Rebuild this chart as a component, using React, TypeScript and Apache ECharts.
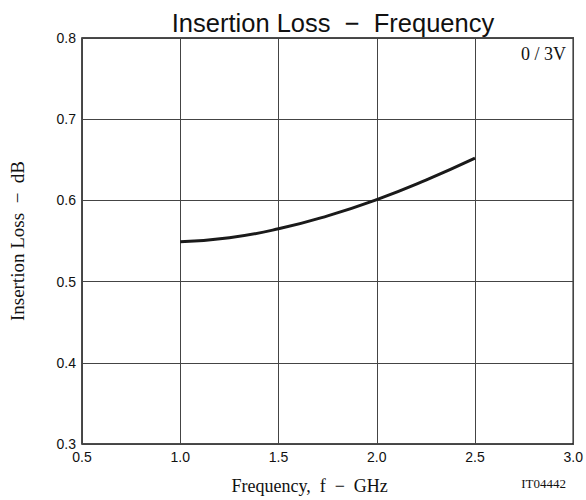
import React, { useEffect, useRef } from "react";
import * as echarts from "echarts";

const freqGHz = [1.0, 1.25, 1.5, 1.75, 2.0, 2.25, 2.5];
const lossDb = [0.549, 0.554, 0.565, 0.581, 0.601, 0.625, 0.652];
const xTicks = [0.5, 1.0, 1.5, 2.0, 2.5, 3.0];
const yTicks = [0.3, 0.4, 0.5, 0.6, 0.7, 0.8];

export default function App() {
  const ref = useRef<HTMLDivElement>(null);
  useEffect(() => {
    if (!ref.current) return;
    const chart = echarts.init(ref.current, undefined, { renderer: "svg" });
    const serif = "'Liberation Serif', 'Times New Roman', serif";
    const sans = "'Liberation Sans', Arial, sans-serif";
    chart.setOption({
      animation: false,
      backgroundColor: "#ffffff",
      title: {
        text: "Insertion Loss  \u2212  Frequency",
        left: 328,
        textAlign: "center",
        top: 5,
        textStyle: { fontFamily: sans, fontSize: 25.5, fontWeight: "normal", color: "#111" },
      },
      grid: { left: 82, right: 11, top: 38, bottom: 56, show: true, borderColor: "#111", borderWidth: 1.5 },
      xAxis: {
        type: "value",
        min: 0.5,
        max: 3.0,
        interval: 0.5,
        name: "Frequency,  f  \u2212  GHz",
        nameLocation: "middle",
        nameGap: 33,
        nameTextStyle: { fontFamily: serif, fontSize: 18, color: "#111", padding: [0, 0, 0, -36] },
        axisLine: { show: false },
        axisTick: { show: false },
        axisLabel: {
          fontFamily: sans,
          fontSize: 14,
          color: "#111",
          margin: 6,
          formatter: (v: number) => (xTicks.includes(v) ? v.toFixed(1) : ""),
        },
        splitLine: { show: true, lineStyle: { color: "#444", width: 1 } },
      },
      yAxis: {
        type: "value",
        min: 0.3,
        max: 0.8,
        interval: 0.1,
        name: "Insertion Loss  \u2212  dB",
        nameLocation: "middle",
        nameGap: 55,
        nameTextStyle: { fontFamily: serif, fontSize: 19, color: "#111" },
        axisLine: { show: false },
        axisTick: { show: false },
        axisLabel: {
          fontFamily: sans,
          fontSize: 14,
          color: "#111",
          margin: 6,
          formatter: (v: number) => {
            const r = Math.round(v * 10) / 10;
            return yTicks.includes(r) ? r.toFixed(1) : "";
          },
        },
        splitLine: { show: true, lineStyle: { color: "#444", width: 1 } },
      },
      graphic: [
        {
          type: "text",
          right: 20,
          top: 45,
          style: { text: "0 / 3V", fontFamily: serif, fontSize: 18, fill: "#111" },
        },
        {
          type: "text",
          right: 20,
          top: 477,
          style: { text: "IT04442", fontFamily: serif, fontSize: 13, fill: "#111" },
        },
      ],
      series: [
        {
          type: "line",
          data: freqGHz.map((f, i) => [f, lossDb[i]]),
          smooth: true,
          showSymbol: false,
          lineStyle: { color: "#1a1a1a", width: 3 },
        },
      ],
    });
    return () => chart.dispose();
  }, []);
  return (
    <div
      ref={ref}
      style={{ position: "absolute", left: 0, top: 0, width: 586, height: 500 }}
    />
  );
}
